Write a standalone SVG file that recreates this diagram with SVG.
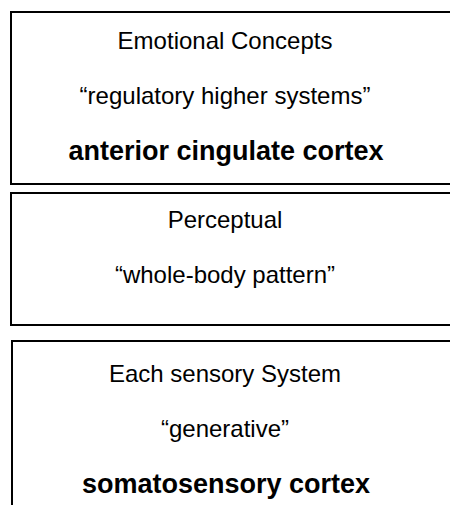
<svg xmlns="http://www.w3.org/2000/svg" width="450" height="505" viewBox="0 0 450 505">
<style>
.box{fill:#fff;stroke:#000;stroke-width:2}
.t{font-family:"Liberation Sans",Arial,sans-serif;font-size:24px;fill:#000;text-anchor:middle}
.b{font-weight:bold;font-size:27px}
</style>
<rect width="450" height="505" fill="#fff"/>
<g id="node-emotional">
<rect class="box" x="11" y="12" width="460" height="172"/>
<text class="t" x="225" y="49">Emotional Concepts</text>
<text class="t" x="225" y="104">“regulatory higher systems”</text>
<text class="t b" x="226" y="160">anterior cingulate cortex</text>
</g>
<g id="node-perceptual">
<rect class="box" x="11" y="193" width="460" height="132"/>
<text class="t" x="225" y="228">Perceptual</text>
<text class="t" x="225" y="283">“whole-body pattern”</text>
</g>
<g id="node-sensory">
<rect class="box" x="12" y="341" width="460" height="180"/>
<text class="t" x="225" y="382">Each sensory System</text>
<text class="t" x="225" y="437">“generative”</text>
<text class="t b" x="226" y="493">somatosensory cortex</text>
</g>
<g id="connectors"></g>
</svg>
